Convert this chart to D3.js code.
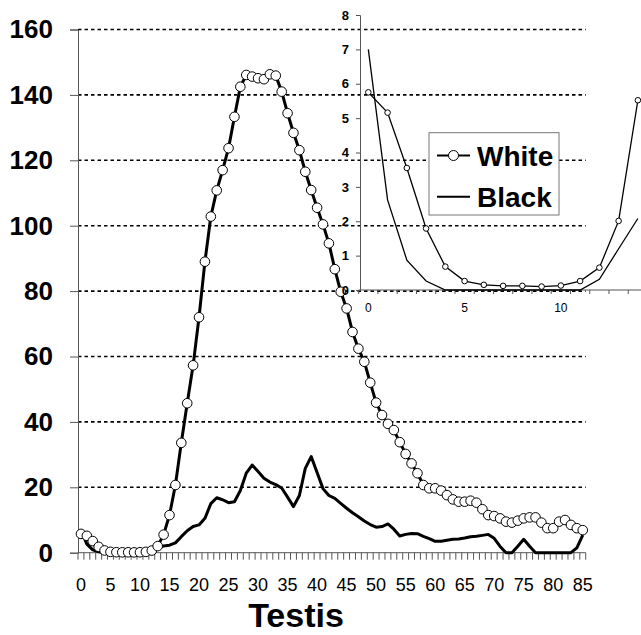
<!DOCTYPE html>
<html><head><meta charset="utf-8">
<script src="https://cdn.jsdelivr.net/npm/d3@7"></script>
<style>
html,body{margin:0;padding:0;background:#fff;}
svg{display:block;font-family:"Liberation Sans",Arial,sans-serif;}
</style></head>
<body>
<svg id="chart" width="641" height="635"></svg>
<script>
const categories = d3.range(0, 86);
const whiteValues = [5.75,5.16,3.55,1.79,0.68,0.26,0.15,0.12,0.12,0.10,
  0.13,0.26,0.65,2.01,5.52,11.5,20.7,33.6,45.7,57.3,
  72,89,102.8,110.8,117,123.7,133.3,142.5,146.1,145.6,
  145.1,144.8,146.3,145.9,141,134.4,128.4,123.1,116.5,110.9,
  105.5,100.4,94.6,86.7,79.8,74.7,67.5,62.4,58.4,52,
  45.9,42.1,39.4,37.5,33.8,30.2,27.3,24.3,20.7,19.7,
  19.7,19.0,17.6,16.3,15.6,15.6,15.9,15.3,13.3,11.5,
  11.2,10.5,9.5,9.2,9.8,10.5,10.8,10.8,9.2,7.5,
  7.5,9.5,10.0,8.5,7.5,6.9];
const blackValues = [7.0,2.62,0.87,0.26,0,0,0,0,0,0,
  0,0,0.31,1.2,2.08,2.3,3.0,4.9,6.7,8.0,
  8.5,10.5,15.0,16.8,16.2,15.3,15.6,19.0,24.3,26.8,
  24.8,22.8,21.6,20.8,19.8,17.0,14.1,17.5,25.8,29.4,
  24.5,19.6,17.5,16.6,15.1,13.6,12.2,11.0,9.7,8.6,
  7.8,8.0,8.8,7.2,5.1,5.6,5.9,5.8,5.0,4.3,
  3.5,3.5,3.8,4.1,4.2,4.5,4.9,5.0,5.3,5.6,
  4.4,1.9,0,0,2.0,4.1,2.0,0,0,0,
  0,0,0,0,1.5,5.4];
const yTicks = [0,20,40,60,80,100,120,140,160];
const xTickLabels = d3.range(0, 86, 5);
const insetCategories = d3.range(0, 15);
const insetYTicks = [0,1,2,3,4,5,6,7,8];
const insetXTickLabels = [0,5,10];
const seriesNames = ["White","Black"];
const xTitle = "Testis";

const svg = d3.select("#chart");

// ---------- main chart ----------
const x = d3.scaleBand().domain(categories).range([78, 585.7]).padding(0);
const y = d3.scaleLinear().domain([0,160]).range([552.7, 29.5]);
const cx = i => x(i) + x.bandwidth()/2;

// gridlines
svg.append("g").selectAll("line").data(yTicks.filter(d=>d>0)).join("line")
  .attr("x1", 78).attr("x2", 585.7)
  .attr("y1", d=>y(d)).attr("y2", d=>y(d))
  .attr("stroke","#000").attr("stroke-width",1.6).attr("stroke-dasharray","3.5,3");

// y axis
const yAxis = svg.append("g").attr("transform","translate(78,0)")
  .call(d3.axisLeft(y).tickValues(yTicks).tickSize(8).tickPadding(17));
yAxis.select(".domain").attr("stroke","#555");
yAxis.selectAll(".tick line").attr("stroke","#555");
yAxis.selectAll(".tick text").attr("font-size",26).attr("font-weight","bold")
  .attr("fill","#000").attr("font-family","'Liberation Sans',Arial,sans-serif");

// x axis line + boundary ticks
const xAxisG = svg.append("g");
xAxisG.append("line").attr("x1",78).attr("x2",585.7).attr("y1",y(0)).attr("y2",y(0))
  .attr("stroke","#555").attr("stroke-width",1);
const bounds = categories.map(i => x(i)).concat([x(85)+x.bandwidth()]);
xAxisG.selectAll("line.tk").data(bounds).join("line").attr("class","tk")
  .attr("x1",d=>d).attr("x2",d=>d).attr("y1",y(0)).attr("y2",y(0)+7)
  .attr("stroke","#555").attr("stroke-width",1);
const xLab = svg.append("g").attr("transform",`translate(0,${y(0)})`)
  .call(d3.axisBottom(x).tickValues(xTickLabels).tickSize(0).tickPadding(26));
xLab.select(".domain").remove();
xLab.selectAll(".tick text").attr("font-size",18).attr("fill","#000")
  .attr("font-family","'Liberation Sans',Arial,sans-serif");

// x title
svg.append("text").attr("x",296).attr("y",627).attr("text-anchor","middle")
  .attr("font-size",34).attr("font-weight","bold").text(xTitle);

// black series
const lineMain = d3.line().x((d,i)=>cx(i)).y(d=>y(d));
svg.append("path").datum(blackValues).attr("d",lineMain)
  .attr("fill","none").attr("stroke","#000").attr("stroke-width",3).attr("stroke-linejoin","round");
// white series
svg.append("path").datum(whiteValues).attr("d",lineMain)
  .attr("fill","none").attr("stroke","#000").attr("stroke-width",3).attr("stroke-linejoin","round");
svg.append("g").selectAll("circle").data(whiteValues).join("circle")
  .attr("cx",(d,i)=>cx(i)).attr("cy",d=>y(d)).attr("r",4.8)
  .attr("fill","#fff").attr("stroke","#000").attr("stroke-width",1);

// ---------- inset ----------
const xi = d3.scaleBand().domain(insetCategories).range([358.7, 647.5]).padding(0);
const yi = d3.scaleLinear().domain([0,8]).range([290, 15]);
const cxi = i => xi(i) + xi.bandwidth()/2;

const yiAxis = svg.append("g").attr("transform","translate(360,0)")
  .call(d3.axisLeft(yi).tickValues(insetYTicks).tickSize(4).tickPadding(7));
yiAxis.select(".domain").attr("stroke","#555");
yiAxis.selectAll(".tick line").attr("stroke","#555");
yiAxis.selectAll(".tick text").attr("font-size",13).attr("font-weight","bold")
  .attr("fill","#000").attr("font-family","'Liberation Sans',Arial,sans-serif");

const xiG = svg.append("g");
xiG.append("line").attr("x1",358.7).attr("x2",647.5).attr("y1",yi(0)).attr("y2",yi(0))
  .attr("stroke","#555");
const ibounds = insetCategories.map(i=>xi(i)).concat([xi(14)+xi.bandwidth()]);
xiG.selectAll("line.tk").data(ibounds).join("line").attr("class","tk")
  .attr("x1",d=>d).attr("x2",d=>d).attr("y1",yi(0)).attr("y2",yi(0)+4)
  .attr("stroke","#555");
const xiLab = svg.append("g").attr("transform",`translate(0,${yi(0)})`)
  .call(d3.axisBottom(xi).tickValues(insetXTickLabels).tickSize(0).tickPadding(13));
xiLab.select(".domain").remove();
xiLab.selectAll(".tick text").attr("font-size",12).attr("fill","#000")
  .attr("font-family","'Liberation Sans',Arial,sans-serif");

const lineInset = d3.line().x((d,i)=>cxi(i)).y(d=>yi(d));
svg.append("path").datum(blackValues.slice(0,15)).attr("d",lineInset)
  .attr("fill","none").attr("stroke","#000").attr("stroke-width",1.3);
svg.append("path").datum(whiteValues.slice(0,15)).attr("d",lineInset)
  .attr("fill","none").attr("stroke","#000").attr("stroke-width",1.3);
svg.append("g").selectAll("circle").data(whiteValues.slice(0,15)).join("circle")
  .attr("cx",(d,i)=>cxi(i)).attr("cy",d=>yi(d)).attr("r",2.8)
  .attr("fill","#fff").attr("stroke","#000").attr("stroke-width",1);

// legend
const lg = svg.append("g");
lg.append("rect").attr("x",429).attr("y",132.7).attr("width",130).attr("height",82.3)
  .attr("fill","#fff").attr("stroke","#777").attr("stroke-width",1);
const rows = [155.5, 196.7];
seriesNames.forEach((name, k) => {
  lg.append("line").attr("x1",437).attr("x2",470).attr("y1",rows[k]).attr("y2",rows[k])
    .attr("stroke","#000").attr("stroke-width",2);
  if (k === 0) lg.append("circle").attr("cx",453.5).attr("cy",rows[k]).attr("r",5)
    .attr("fill","#fff").attr("stroke","#000").attr("stroke-width",1);
  lg.append("text").attr("x",477).attr("y",rows[k]+10.5).attr("font-size",28)
    .attr("font-weight","bold").text(name);
});
</script>
</body></html>
